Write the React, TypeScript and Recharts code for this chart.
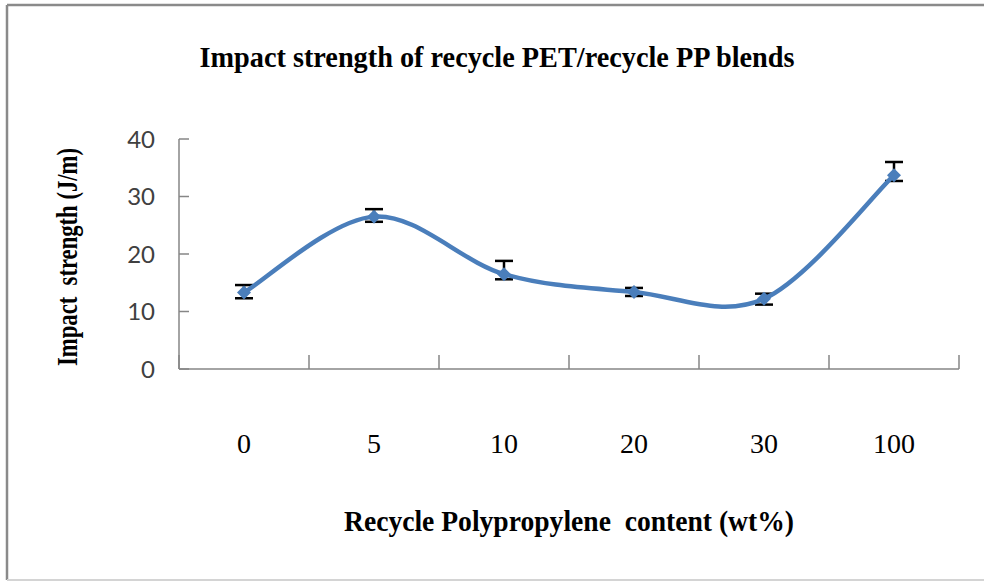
import { LineChart, Line, XAxis, YAxis, ErrorBar, Customized } from 'recharts';

const CATEGORIES = ['0', '5', '10', '20', '30', '100'];
const STRENGTH = [13.3, 26.5, 16.5, 13.4, 12.2, 33.7];
const ERR_LOW = [1.0, 0.9, 0.9, 0.7, 1.0, 1.0];
const ERR_HIGH = [1.3, 1.3, 2.3, 0.7, 0.9, 2.3];
const Y_TICKS = [0, 10, 20, 30, 40];

const data = CATEGORIES.map((c, i) => ({
  pos: i + 0.5,
  cat: c,
  value: STRENGTH[i],
  err: [ERR_LOW[i], ERR_HIGH[i]],
}));
const edgeTicks = CATEGORIES.map((_, i) => i).concat(CATEGORIES.length);

const BLUE = '#4A7EBB';
const AXIS = '#868686';
const SERIF = '"Liberation Serif", "Times New Roman", serif';

// excel-like smoothing (catmull-rom as bezier)
function smoothCurve(context: any) {
  let pts: number[][] = [];
  return {
    areaStart() {},
    areaEnd() {},
    lineStart() {
      pts = [];
    },
    point(x: number, y: number) {
      pts.push([+x, +y]);
    },
    lineEnd() {
      const n = pts.length;
      if (!n) return;
      context.moveTo(pts[0][0], pts[0][1]);
      for (let i = 0; i < n - 1; i++) {
        const p0 = pts[Math.max(i - 1, 0)];
        const p1 = pts[i];
        const p2 = pts[i + 1];
        const p3 = pts[Math.min(i + 2, n - 1)];
        context.bezierCurveTo(
          p1[0] + (p2[0] - p0[0]) / 6,
          p1[1] + (p2[1] - p0[1]) / 6,
          p2[0] - (p3[0] - p1[0]) / 6,
          p2[1] - (p3[1] - p1[1]) / 6,
          p2[0],
          p2[1]
        );
      }
    },
  };
}

function Diamond(props: any) {
  const { cx, cy } = props;
  if (cx == null || cy == null) return null;
  const r = 7;
  return <polygon points={`${cx},${cy - r} ${cx + r},${cy} ${cx},${cy + r} ${cx - r},${cy}`} fill={BLUE} />;
}

function CatTick(props: any) {
  const { x, y, payload, width } = props;
  const label = CATEGORIES[payload.value];
  if (label === undefined) return null;
  const half = width / CATEGORIES.length / 2;
  return (
    <text x={x + half} y={y} dy="0.71em" textAnchor="middle" fontFamily={SERIF} fontSize={28} fill="#000">
      {label}
    </text>
  );
}

function Frame() {
  return (
    <g>
      <line x1={7} y1={5} x2={984} y2={5} stroke="#8a8a8a" strokeWidth={2.5} />
      <line x1={7} y1={5} x2={7} y2={580} stroke="#8a8a8a" strokeWidth={2.5} />
      <line x1={7} y1={580} x2={984} y2={580} stroke="#d4d4d4" strokeWidth={2} />
      <text
        x={497}
        y={67}
        textAnchor="middle"
        fontFamily={SERIF}
        fontWeight="bold"
        fontSize={30}
        textLength={595}
        lengthAdjust="spacingAndGlyphs"
        fill="#000"
      >
        Impact strength of recycle PET/recycle PP blends
      </text>
    </g>
  );
}

export default function App() {
  return (
    <div style={{ width: 984, height: 581, background: '#fff' }}>
      <style>{'body{margin:0}'}</style>
      <LineChart width={984} height={581} data={data} margin={{ top: 139, right: 25, bottom: 62, left: 79 }}>
        <Customized component={Frame} />
        <XAxis
          dataKey="pos"
          type="number"
          domain={[0, CATEGORIES.length]}
          ticks={edgeTicks}
          interval={0}
          height={150}
          stroke={AXIS}
          strokeWidth={1.5}
          tickSize={-14}
          tickMargin={78}
          tick={<CatTick />}
          label={{
            content: () => (
              <text
                x={569}
                y={531}
                textAnchor="middle"
                fontFamily={SERIF}
                fontWeight="bold"
                fontSize={29}
                textLength={450}
                lengthAdjust="spacingAndGlyphs"
                fill="#000"
                style={{ whiteSpace: 'pre' }}
              >
                {'Recycle Polypropylene  content (wt%)'}
              </text>
            ),
          }}
        />
        <YAxis
          type="number"
          domain={[0, 40]}
          ticks={Y_TICKS}
          width={100}
          stroke={AXIS}
          strokeWidth={1.5}
          tickSize={-10}
          tickMargin={34}
          tick={{ fill: '#404040', fontSize: 24, fontFamily: 'Lato, "Open Sans", sans-serif' }}
          label={{
            content: () => (
              <text
                x={0}
                y={0}
                transform="translate(77 257) rotate(-90)"
                textAnchor="middle"
                fontFamily={SERIF}
                fontWeight="bold"
                fontSize={29}
                textLength={218}
                lengthAdjust="spacingAndGlyphs"
                fill="#000"
                style={{ whiteSpace: 'pre' }}
              >
                {'Impact  strength (J/m)'}
              </text>
            ),
          }}
        />
        <Line
          dataKey="value"
          type={smoothCurve as any}
          stroke={BLUE}
          strokeWidth={4.5}
          dot={<Diamond />}
          activeDot={false}
          isAnimationActive={false}
        >
          <ErrorBar dataKey="err" width={9} strokeWidth={2.5} stroke="#000" direction="y" isAnimationActive={false} />
        </Line>
      </LineChart>
    </div>
  );
}
